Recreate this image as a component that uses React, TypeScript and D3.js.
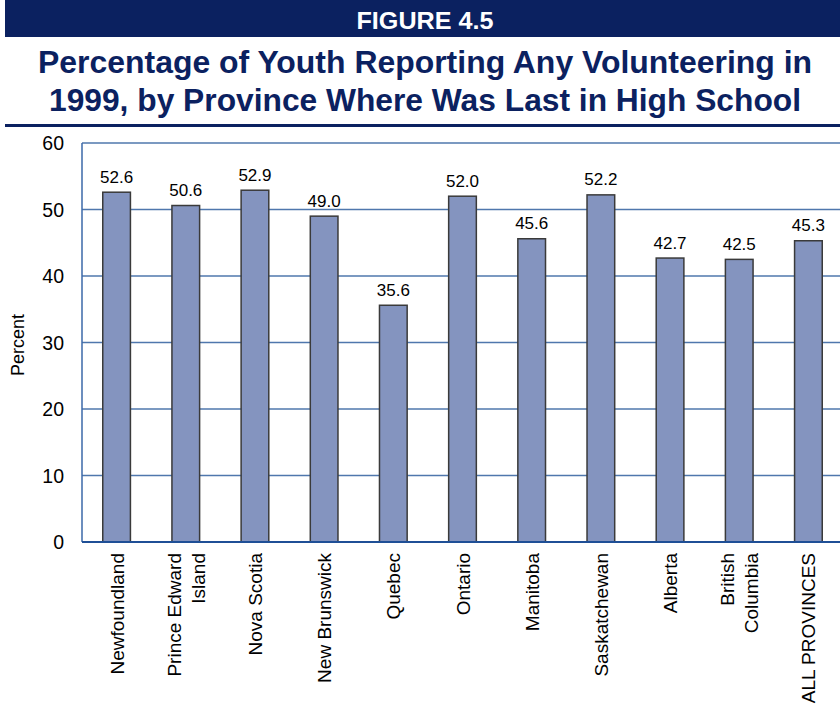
import React from "react";
import * as d3 from "d3";

const provinces: string[][] = [
  ["Newfoundland"],
  ["Prince Edward", "Island"],
  ["Nova Scotia"],
  ["New Brunswick"],
  ["Quebec"],
  ["Ontario"],
  ["Manitoba"],
  ["Saskatchewan"],
  ["Alberta"],
  ["British", "Columbia"],
  ["ALL PROVINCES"],
];
const values: number[] = [52.6, 50.6, 52.9, 49.0, 35.6, 52.0, 45.6, 52.2, 42.7, 42.5, 45.3];
const yTicks: number[] = [0, 10, 20, 30, 40, 50, 60];
const figureLabel = "FIGURE 4.5";
const titleLines = [
  "Percentage of Youth Reporting Any Volunteering in",
  "1999, by Province Where Was Last in High School",
];
const yLabel = "Percent";

const W = 840;
const H = 717;
const NAVY = "#0b2160";
const FONT = "'Liberation Sans', Arial, sans-serif";

export default function App() {
  const left = 82;
  const right = 843;
  const top = 143;
  const bottom = 542;
  const keys = provinces.map((p) => p.join(" "));
  const x = d3.scaleBand<string>().domain(keys).range([left, right]).paddingInner(0.6).paddingOuter(0.3);
  const y = d3.scaleLinear().domain([0, 60]).range([bottom, top]);
  const bw = x.bandwidth();

  return (
    <div style={{ position: "absolute", left: 0, top: 0 }}>
      <svg width={W} height={H} style={{ display: "block", background: "#fff" }}>
        <rect x={5} y={0} width={W - 5} height={37} fill={NAVY} />
        <text
          x={425}
          y={29}
          textAnchor="middle"
          fill="#fff"
          fontFamily={FONT}
          fontWeight="bold"
          fontSize={23}
          textLength={137}
          lengthAdjust="spacingAndGlyphs"
        >
          {figureLabel}
        </text>
        {titleLines.map((t, i) => (
          <text
            key={i}
            x={425}
            y={73 + i * 38}
            textAnchor="middle"
            fill={NAVY}
            fontFamily={FONT}
            fontWeight="bold"
            fontSize={32}
            textLength={i === 0 ? 774 : 752}
            lengthAdjust="spacingAndGlyphs"
          >
            {t}
          </text>
        ))}
        <rect x={5} y={124} width={W - 5} height={3} fill={NAVY} />

        {yTicks.map((t) => (
          <g key={t}>
            {t > 0 && <line x1={left} x2={W} y1={y(t)} y2={y(t)} stroke="#4f77ad" strokeWidth={1.3} />}
            <text x={64} y={y(t) + 7} textAnchor="end" fontFamily={FONT} fontSize={19.5} fill="#000">
              {t}
            </text>
          </g>
        ))}
        <line x1={left} x2={left} y1={top} y2={bottom} stroke="#3b68a8" strokeWidth={1.5} />
        <text
          transform={`translate(24,${345}) rotate(-90)`}
          textAnchor="middle"
          fontFamily={FONT}
          fontSize={18}
          fill="#000"
        >
          {yLabel}
        </text>

        {values.map((v, i) => {
          const k = keys[i];
          const bx = x(k)!;
          return (
            <g key={k}>
              <rect x={bx} y={y(v)} width={bw} height={bottom - y(v)} fill="#8494bf" stroke="#3a3a3a" strokeWidth={1.5} />
              <text x={bx + bw / 2} y={y(v) - 9.5} textAnchor="middle" fontFamily={FONT} fontSize={17} fill="#000">
                {v.toFixed(1)}
              </text>
            </g>
          );
        })}
        <line x1={left} x2={W} y1={bottom} y2={bottom} stroke="#1f4f96" strokeWidth={1.8} />

        {provinces.map((lines, i) => {
          const cx = x(keys[i])! + bw / 2;
          const n = lines.length;
          return (
            <g key={keys[i]}>
              {lines.map((ln, j) => {
                const lx = cx + (j - (n - 1) / 2) * 24 + 7;
                return (
                  <text
                    key={j}
                    transform={`translate(${lx},${553}) rotate(-90)`}
                    textAnchor="end"
                    fontFamily={FONT}
                    fontSize={19}
                    fill="#000"
                  >
                    {ln}
                  </text>
                );
              })}
            </g>
          );
        })}
      </svg>
    </div>
  );
}
